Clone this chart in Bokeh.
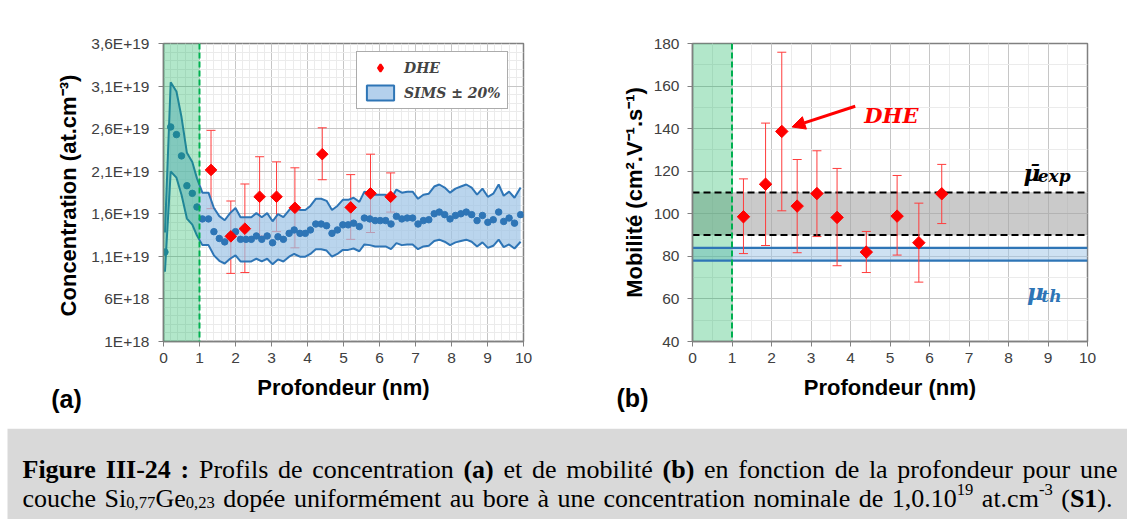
import math
import numpy as np
from bokeh.plotting import figure
from bokeh.layouts import column, row
from bokeh.models import (Range1d, FixedTicker, ColumnDataSource, Whisker, TeeHead,
                          BoxAnnotation, Span, Label, Arrow, NormalHead, Legend, LegendItem)
from bokeh.core.properties import value
from bokeh.embed import file_html
from bokeh.resources import INLINE

# ---------------- data ----------------
depth_nm = [0.04, 0.20, 0.36, 0.50, 0.65, 0.80, 0.93, 1.08, 1.25, 1.40, 1.55, 1.70, 1.85, 2.00,
            2.14, 2.29, 2.44, 2.58, 2.73, 2.88, 3.03, 3.18, 3.33, 3.49, 3.63, 3.79, 3.94, 4.08,
            4.23, 4.38, 4.53, 4.68, 4.83, 4.98, 5.13, 5.28, 5.44, 5.58, 5.73, 5.88, 6.02, 6.17,
            6.32, 6.47, 6.62, 6.77, 6.92, 7.07, 7.22, 7.37, 7.52, 7.66, 7.81, 7.96, 8.11, 8.26,
            8.41, 8.56, 8.71, 8.86, 9.01, 9.16, 9.31, 9.45, 9.60, 9.75, 9.92]
# SIMS concentration, in units of 1E+19 at.cm-3
sims_conc = [1.15, 2.62, 2.53, 2.28, 1.93, 1.84, 1.68, 1.54, 1.54, 1.39, 1.31, 1.27, 1.34, 1.39,
             1.30, 1.30, 1.30, 1.34, 1.30, 1.34, 1.26, 1.33, 1.30, 1.37, 1.41, 1.37, 1.37, 1.41,
             1.48, 1.48, 1.46, 1.37, 1.41, 1.47, 1.47, 1.49, 1.45, 1.55, 1.54, 1.52, 1.52, 1.52,
             1.48, 1.57, 1.54, 1.55, 1.55, 1.48, 1.52, 1.53, 1.60, 1.62, 1.59, 1.54, 1.58, 1.60,
             1.62, 1.59, 1.52, 1.58, 1.50, 1.53, 1.62, 1.51, 1.55, 1.49, 1.59]
sims_rel_err = 0.20

dhe_depth_a = [1.32, 1.87, 2.26, 2.67, 3.14, 3.65, 4.41, 5.20, 5.75, 6.31]
dhe_conc = [2.115, 1.335, 1.425, 1.80, 1.80, 1.67, 2.30, 1.675, 1.84, 1.80]
dhe_conc_hi = [2.58, 1.75, 1.95, 2.27, 2.21, 2.14, 2.61, 2.06, 2.30, 2.08]
dhe_conc_lo = [1.66, 0.90, 0.91, 1.34, 1.39, 1.20, 2.00, 1.30, 1.38, 1.62]

dhe_depth_b = [1.29, 1.85, 2.26, 2.65, 3.15, 3.66, 4.40, 5.18, 5.73, 6.31]
dhe_mob = [98.6, 113.9, 138.7, 103.6, 109.5, 98.3, 82.0, 98.9, 86.4, 109.4]
dhe_mob_hi = [116.4, 142.6, 175.9, 125.5, 129.6, 121.3, 91.7, 118.0, 105.0, 123.2]
dhe_mob_lo = [81.3, 85.1, 101.4, 81.7, 89.3, 75.6, 72.4, 80.6, 67.9, 95.4]

mu_exp_lo, mu_exp_hi = 90, 110
mu_th_lo, mu_th_hi = 78, 84
surface_zone = [0, 1]

x_ticks = [0, 1, 2, 3, 4, 5, 6, 7, 8, 9, 10]
conc_ticks = [0.1, 0.6, 1.1, 1.6, 2.1, 2.6, 3.1, 3.6]
conc_tick_labels = ["1E+18", "6E+18", "1,1E+19", "1,6E+19", "2,1E+19", "2,6E+19", "3,1E+19", "3,6E+19"]
mob_ticks = [40, 60, 80, 100, 120, 140, 160, 180]

# ---------------- styles ----------------
BLUE = "#2e75b6"
RED = "#ff0000"
GREEN = "#00b050"
TICK_FONT = "Liberation Sans"
CHART_H = 372
NAN1 = np.array([np.nan])


def style(p, xminor, yticks, yminor, ylabel, ystand, ylab_stand):
    p.xaxis.ticker = FixedTicker(ticks=x_ticks, minor_ticks=xminor)
    p.yaxis.ticker = FixedTicker(ticks=yticks, minor_ticks=yminor)
    for g in (p.xgrid[0], p.ygrid[0]):
        g.grid_line_color = "#c6c6c6"
        g.grid_line_width = 1
        g.minor_grid_line_color = "#ebebeb"
        g.minor_grid_line_width = 1
    for ax in (p.xaxis[0], p.yaxis[0]):
        ax.axis_line_color = "#808080"
        ax.axis_line_width = 1.5
        ax.major_tick_line_color = "#808080"
        ax.major_tick_out = 5
        ax.major_tick_in = 0
        ax.minor_tick_out = 0
        ax.minor_tick_in = 0
        ax.major_label_text_font = TICK_FONT
        ax.major_label_text_font_size = "15.5px"
        ax.major_label_text_color = "#404040"
        ax.axis_label_text_font = "Liberation Sans"
        ax.axis_label_text_font_size = "22px"
        ax.axis_label_text_font_style = "bold"
        ax.axis_label_text_color = "#000000"
    p.xaxis.major_label_standoff = 6
    p.yaxis.axis_label = ylabel
    p.yaxis.major_label_standoff = ystand
    p.yaxis.axis_label_standoff = ylab_stand
    p.outline_line_color = "#808080"
    p.outline_line_width = 1.5
    p.background_fill_color = "white"
    p.border_fill_color = "white"


# ---------------- panel (a) ----------------
pa = figure(width=568, height=CHART_H, x_range=Range1d(0, 10), y_range=Range1d(0.1, 3.6),
            output_backend="svg", toolbar_location=None,
            min_border_left=163, min_border_right=45, min_border_top=43,
            min_border_bottom=CHART_H - 43 - 298)
style(pa, [i * 0.2 for i in range(51)], conc_ticks, [0.1 + i * 0.1 for i in range(36)],
      "Concentration  (at.cm\u207b\u00b3)", 9, 7)
pa.yaxis.major_label_overrides = dict(zip(conc_ticks, conc_tick_labels))

sims_hi = [v * (1 + sims_rel_err) for v in sims_conc]
sims_lo = [v * (1 - sims_rel_err) for v in sims_conc]
sims_src = ColumnDataSource(dict(x=depth_nm, y=sims_conc, hi=sims_hi, lo=sims_lo))
pa.varea(x="x", y1="lo", y2="hi", source=sims_src, fill_color="#9dc3e6", fill_alpha=0.7)
pa.line(x="x", y="hi", source=sims_src, line_color=BLUE, line_width=2)
pa.line(x="x", y="lo", source=sims_src, line_color=BLUE, line_width=2)
pa.scatter(x="x", y="y", source=sims_src, marker="circle", size=6.5, fill_color=BLUE, line_color=BLUE)

pa.add_layout(BoxAnnotation(left=surface_zone[0], right=surface_zone[1], fill_color=GREEN,
                            fill_alpha=0.3, line_alpha=0))
pa.add_layout(Span(location=surface_zone[1], dimension="height", line_color=GREEN,
                   line_width=2, line_dash="6 3"))

dhe_a_src = ColumnDataSource(dict(x=dhe_depth_a, y=dhe_conc, hi=dhe_conc_hi, lo=dhe_conc_lo))
pa.add_layout(Whisker(source=dhe_a_src, base="x", upper="hi", lower="lo", dimension="height",
                      line_color="#ff3c3c", line_width=1,
                      upper_head=TeeHead(size=9, line_color="#ff3c3c", line_width=1),
                      lower_head=TeeHead(size=9, line_color="#ff3c3c", line_width=1)))
pa.scatter(x="x", y="y", source=dhe_a_src, marker="square", angle=math.pi / 4,
           size=8.2, fill_color=RED, line_color=RED, line_width=1)
# legend-only glyphs (NaN geometry: never drawn in the plot area)
r_dhe_leg = pa.scatter(x=NAN1, y=NAN1, marker="diamond", size=8, fill_color=RED,
                       line_color=RED, line_width=2)
r_band_leg = pa.quad(left=NAN1, right=NAN1, top=NAN1, bottom=NAN1,
                     fill_color="#b4d0ec", line_color=BLUE, line_width=2)

leg = Legend(items=[LegendItem(label="DHE", renderers=[r_dhe_leg]),
                    LegendItem(label="SIMS \u00b1 20%", renderers=[r_band_leg])],
             location=(193, 232))
leg.margin = 0
leg.padding = 6
leg.spacing = 6
leg.glyph_width = 34
leg.glyph_height = 19
leg.label_height = 19
leg.label_standoff = 7
leg.label_text_font = "DejaVu Serif"
leg.label_text_font_style = "bold italic"
leg.label_text_font_size = "14px"
leg.border_line_color = "#595959"
leg.border_line_width = 1
leg.background_fill_color = "white"
leg.background_fill_alpha = 1
pa.add_layout(leg)

# ---------------- panel (b) ----------------
pb = figure(width=559, height=CHART_H, x_range=Range1d(0, 10), y_range=Range1d(40, 180),
            output_backend="svg", toolbar_location=None,
            min_border_left=124, min_border_right=40, min_border_top=43,
            min_border_bottom=CHART_H - 43 - 298)
style(pb, [i * 0.5 for i in range(21)], mob_ticks, list(range(40, 181, 10)),
      "Mobilit\u00e9 (cm\u00b2.V\u207b\u00b9.s\u207b\u00b9)", 8, 4)

pb.add_layout(BoxAnnotation(bottom=mu_exp_lo, top=mu_exp_hi, fill_color="#a6a6a6",
                            fill_alpha=0.6, line_alpha=0, level="underlay"))
pb.add_layout(BoxAnnotation(bottom=mu_th_lo, top=mu_th_hi, fill_color="#9dc3e6",
                            fill_alpha=0.5, line_alpha=0, level="underlay"))
pb.add_layout(BoxAnnotation(left=surface_zone[0], right=surface_zone[1], fill_color=GREEN,
                            fill_alpha=0.3, line_alpha=0, level="underlay"))
for loc in (mu_exp_lo, mu_exp_hi):
    pb.add_layout(Span(location=loc, dimension="width", line_color="#000000",
                       line_width=2, line_dash="7 4", level="underlay"))
for loc in (mu_th_lo, mu_th_hi):
    pb.add_layout(Span(location=loc, dimension="width", line_color=BLUE,
                       line_width=2.2, level="underlay"))
pb.add_layout(Span(location=surface_zone[1], dimension="height", line_color=GREEN,
                   line_width=2, line_dash="6 3", level="underlay"))

dhe_b_src = ColumnDataSource(dict(x=dhe_depth_b, y=dhe_mob, hi=dhe_mob_hi, lo=dhe_mob_lo))
pb.add_layout(Whisker(source=dhe_b_src, base="x", upper="hi", lower="lo", dimension="height",
                      line_color="#ff3c3c", line_width=1, level="underlay",
                      upper_head=TeeHead(size=9, line_color="#ff3c3c", line_width=1),
                      lower_head=TeeHead(size=9, line_color="#ff3c3c", line_width=1)))
pb.scatter(x="x", y="y", source=dhe_b_src, marker="square", angle=math.pi / 4,
           size=8.8, fill_color=RED, line_color=RED, line_width=1)

pb.add_layout(Arrow(end=NormalHead(size=13, fill_color=RED, line_color=RED),
                    x_start=4.12, y_start=150.5, x_end=2.52, y_end=140.8,
                    line_color=RED, line_width=3))
pb.add_layout(Label(x=4.35, y=146.3, text="DHE", text_font="DejaVu Serif",
                    text_font_style="bold italic", text_font_size="21px", text_color=RED,
                    text_baseline="alphabetic"))
pb.add_layout(Label(x=8.38, y=119.3, text="\u03bc\u0304", text_font="DejaVu Serif",
                    text_font_style="bold italic", text_font_size="23px", text_color="#000000",
                    text_baseline="alphabetic"))
pb.add_layout(Label(x=8.74, y=117.6, text="exp", text_font="DejaVu Serif",
                    text_font_style="bold italic", text_font_size="17px", text_color="#000000",
                    text_baseline="alphabetic"))
pb.add_layout(Label(x=8.47, y=63.3, text="\u03bc", text_font="DejaVu Serif",
                    text_font_style="bold italic", text_font_size="23px", text_color=BLUE,
                    text_baseline="alphabetic"))
pb.add_layout(Label(x=8.83, y=61.6, text="th", text_font="DejaVu Serif",
                    text_font_style="bold italic", text_font_size="17px", text_color=BLUE,
                    text_baseline="alphabetic"))

# ---------------- strip with x-axis titles and panel letters ----------------
STRIP_H = 428 - CHART_H
ps = figure(width=1127, height=STRIP_H, x_range=Range1d(0, 1127), y_range=Range1d(0, STRIP_H),
            output_backend="svg", toolbar_location=None, x_axis_type=None, y_axis_type=None,
            min_border=0)
ps.grid.visible = False
ps.outline_line_color = None
ps.background_fill_color = "white"
ps.border_fill_color = "white"
# y measured upward from the strip bottom (page y = 428)
strip_txt = dict(x=[343, 889.5, 66, 632],
                 y=[428 - 387, 428 - 387, 428 - 398, 428 - 397],
                 text=["Profondeur (nm)", "Profondeur (nm)", "(a)", "(b)"],
                 size=["22px", "22px", "25px", "25px"])
ps.text(x="x", y="y", text="text", source=ColumnDataSource(strip_txt),
        text_font=value("Liberation Sans"), text_font_style="bold", text_font_size="size",
        text_color="#000000", text_align="center", text_baseline="middle")

# ---------------- caption ----------------
TIMES_R = {' ': 250, 'a': 444, 'b': 500, 'c': 444, 'd': 500, 'e': 444, 'f': 333, 'g': 500,
           'h': 500, 'i': 278, 'l': 278, 'm': 778, 'n': 500, 'o': 500, 'p': 500, 'r': 333,
           's': 389, 't': 278, 'u': 500, 'x': 500, '\u00e9': 444, '\u00e0': 444, '(': 333,
           ')': 333, ',': 250, '.': 250, ':': 278, '-': 333, 'S': 556, 'G': 722, 'P': 556,
           'F': 556, 'I': 333}
TIMES_B = {' ': 250, 'F': 611, 'i': 278, 'g': 500, 'u': 556, 'r': 444, 'e': 444, 'I': 389,
           '-': 333, ':': 333, '(': 333, ')': 333, 'a': 500, 'b': 556, 'S': 556}

cap_line1 = [("Figure III-24 :", True, "n"), (" Profils de concentration ", False, "n"),
             ("(a)", True, "n"), (" et de mobilit\u00e9 ", False, "n"), ("(b)", True, "n"),
             (" en fonction de la profondeur pour une", False, "n")]
cap_line2 = [("couche Si", False, "n"), ("0,77", False, "sub"), ("Ge", False, "n"),
             ("0,23", False, "sub"),
             (" dop\u00e9e uniform\u00e9ment au bore \u00e0 une concentration nominale de 1,0.10", False, "n"),
             ("19", False, "sup"), (" at.cm", False, "n"), ("-3", False, "sup"), (" (", False, "n"),
             ("S1", True, "n"), (").", False, "n")]

CAP_FS = 26.0
CAP_H = 519 - 428


def text_w(s, bold, fs):
    tab = TIMES_B if bold else TIMES_R
    return sum(tab.get(c, 500) for c in s) / 1000.0 * fs


def layout_line(runs, x_start, x_end, base, out):
    pieces = []
    for text, bold, kind in runs:
        fs = CAP_FS * (0.64 if kind != "n" else 1.0)
        parts = text.split(" ")
        for i, part in enumerate(parts):
            if i > 0:
                pieces.append((None, bold, kind, fs))
            if part:
                pieces.append((part, bold, kind, fs))
    nat = sum(text_w(" " if t is None else t, b, fs) for t, b, k, fs in pieces)
    nsp = sum(1 for t, b, k, fs in pieces if t is None)
    extra = (x_end - x_start - nat) / max(nsp, 1)
    x = x_start
    for t, b, k, fs in pieces:
        if t is None:
            x += text_w(" ", b, fs) + extra
            continue
        dy = {"n": 0.0, "sub": -0.16 * CAP_FS, "sup": 0.36 * CAP_FS}[k]
        out["x"].append(x)
        out["y"].append(base + dy)
        out["text"].append(t)
        out["size"].append("%.1fpx" % fs)
        out["style"].append("bold" if b else "normal")
        x += text_w(t, b, fs)


cap = dict(x=[], y=[], text=[], size=[], style=[])
layout_line(cap_line1, 22, 1117, CAP_H - (469 - 428), cap)
layout_line(cap_line2, 22, 1112, CAP_H - (498 - 428), cap)

pc = figure(width=1127, height=CAP_H, x_range=Range1d(0, 1127), y_range=Range1d(0, CAP_H),
            output_backend="svg", toolbar_location=None, x_axis_type=None, y_axis_type=None,
            min_border=0)
pc.grid.visible = False
pc.outline_line_color = None
pc.background_fill_color = "white"
pc.border_fill_color = "white"
pc.add_layout(BoxAnnotation(left=7, fill_color="#d9d9d9", fill_alpha=1, line_alpha=0,
                            level="underlay"))
pc.text(x="x", y="y", text="text", source=ColumnDataSource(cap), text_font=value("Liberation Serif"),
        text_font_size="size", text_font_style="style", text_color="#000000",
        text_baseline="alphabetic", text_align="left")

layout = column(row(pa, pb), ps, pc)
open("out.html", "w").write(file_html(layout, INLINE))
